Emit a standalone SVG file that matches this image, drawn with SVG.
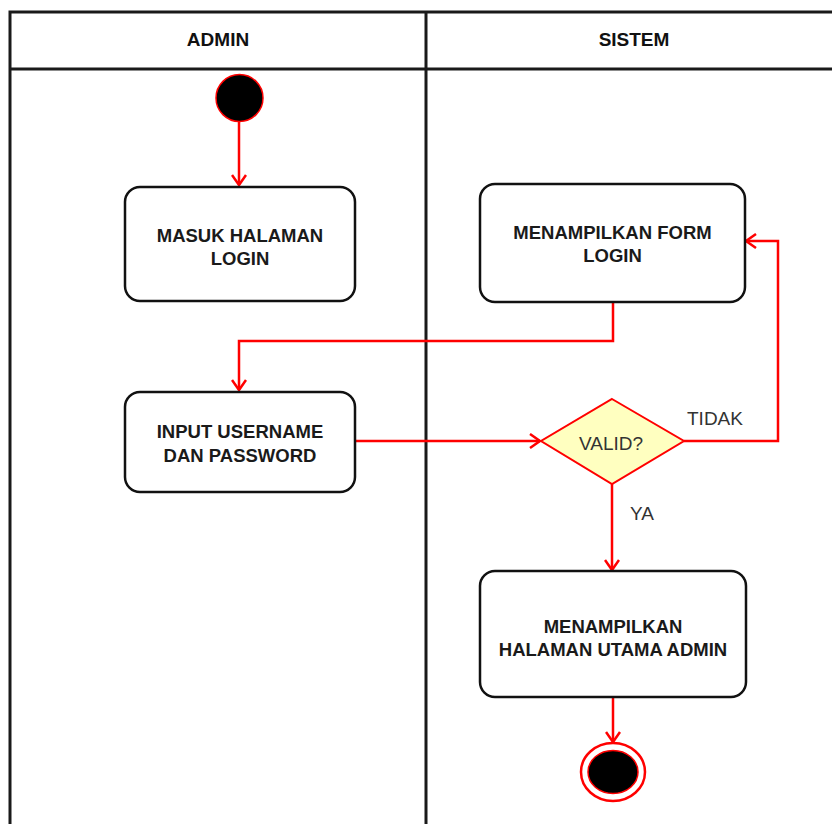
<svg xmlns="http://www.w3.org/2000/svg" width="832" height="824" viewBox="0 0 832 824">
  <style>
    .lane { fill: none; stroke: #1a1a1a; stroke-width: 3; }
    .box { fill: #ffffff; stroke: #111111; stroke-width: 2.5; }
    .txt { font-family: "Liberation Sans", Arial, sans-serif; font-weight: bold; font-size: 18.5px; fill: #1a1a1a; text-anchor: middle; }
    .head { font-family: "Liberation Sans", Arial, sans-serif; font-weight: bold; font-size: 19px; fill: #111111; text-anchor: middle; }
    .lbl { font-family: "Liberation Sans", Arial, sans-serif; font-size: 19px; fill: #333333; }
    .flow { fill: none; stroke: #ff0000; stroke-width: 2.5; marker-end: url(#arrow); }
  </style>
  <defs>
    <marker id="arrow" markerUnits="userSpaceOnUse" markerWidth="14" markerHeight="16" refX="11" refY="8" orient="auto" viewBox="0 0 14 16">
      <path d="M1,1 L11,8 L1,15" fill="none" stroke="#ff0000" stroke-width="2.5"/>
    </marker>
  </defs>

  <rect width="832" height="824" fill="#ffffff"/>

  <!-- swimlanes -->
  <g id="lanes">
    <path class="lane" d="M10,830 V12 H840"/>
    <path class="lane" d="M10,69 H840"/>
    <path class="lane" d="M426,12 V830"/>
    <text class="head" x="218" y="46">ADMIN</text>
    <text class="head" x="634" y="46">SISTEM</text>
  </g>

  <!-- connectors -->
  <g id="connectors">
    <path class="flow" d="M239,122 V185"/>
    <path class="flow" d="M613,302 V341 H239 V390"/>
    <path class="flow" d="M355,441 H540"/>
    <path class="flow" d="M684,441 H778 V241 H746"/>
    <path class="flow" d="M612,484 V570"/>
    <path class="flow" d="M613,697 V742"/>
    <text class="lbl" x="687" y="425">TIDAK</text>
    <text class="lbl" x="630" y="520">YA</text>
  </g>

  <g id="start">
    <circle cx="239.5" cy="98" r="23.5" fill="#000000" stroke="#ff0000" stroke-width="1.5"/>
  </g>

  <g id="masuk-halaman-login">
    <rect class="box" x="125" y="187" width="230" height="114" rx="15"/>
    <text class="txt" x="240" y="242">MASUK HALAMAN</text>
    <text class="txt" x="240" y="265">LOGIN</text>
  </g>

  <g id="menampilkan-form-login">
    <rect class="box" x="480" y="184" width="265" height="118" rx="15"/>
    <text class="txt" x="612.5" y="239">MENAMPILKAN FORM</text>
    <text class="txt" x="612.5" y="262">LOGIN</text>
  </g>

  <g id="input-username">
    <rect class="box" x="125" y="392" width="230" height="100" rx="15"/>
    <text class="txt" x="240" y="438">INPUT USERNAME</text>
    <text class="txt" x="240" y="462">DAN PASSWORD</text>
  </g>

  <g id="valid">
    <polygon points="612,399 684,441 612,484 541,441" fill="#ffffc0" stroke="#ff0000" stroke-width="2"/>
    <text class="lbl" x="611" y="450" text-anchor="middle" fill="#1a1a1a">VALID?</text>
  </g>

  <g id="halaman-utama">
    <rect class="box" x="480" y="571" width="266" height="126" rx="15"/>
    <text class="txt" x="613" y="633">MENAMPILKAN</text>
    <text class="txt" x="613" y="656">HALAMAN UTAMA ADMIN</text>
  </g>

  <g id="end">
    <ellipse cx="613" cy="772" rx="32" ry="29" fill="#ffffff" stroke="#ff0000" stroke-width="2.5"/>
    <ellipse cx="613" cy="772" rx="25" ry="21.5" fill="#000000" stroke="#ff0000" stroke-width="1.5"/>
  </g>
</svg>
